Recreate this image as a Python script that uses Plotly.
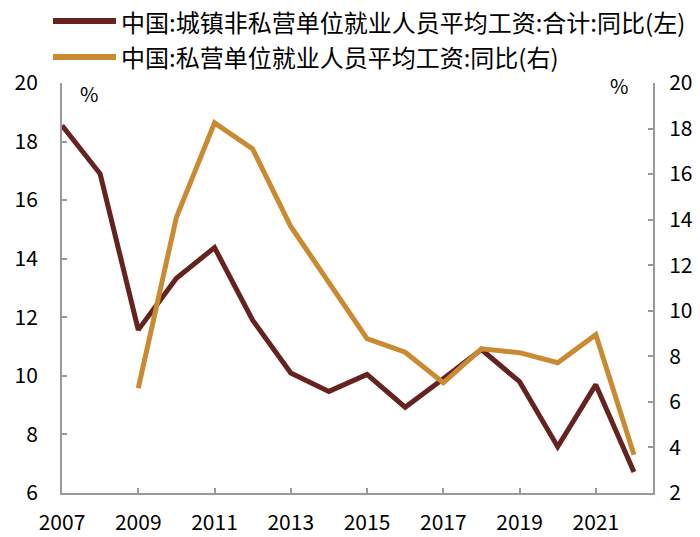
import plotly.graph_objects as go

years = list(range(2007, 2023))
left_name = "中国:城镇非私营单位就业人员平均工资:合计:同比(左)"
right_name = "中国:私营单位就业人员平均工资:同比(右)"
left_vals = [18.55, 16.9, 11.57, 13.33, 14.38, 11.9, 10.1, 9.47, 10.05, 8.93, 9.9, 10.9, 9.8, 7.58, 9.7, 6.72]
right_years = list(range(2009, 2023))
right_vals = [6.6, 14.1, 18.25, 17.1, 13.7, 11.2, 8.78, 8.18, 6.84, 8.33, 8.16, 7.72, 8.95, 3.68]
x_ticks = list(range(2007, 2022, 2))
left_ticks = list(range(6, 21, 2))
right_ticks = list(range(2, 21, 2))

c_dark = "#66221F"
c_gold = "#C98A31"
axis_col = "#9a9a9a"
font_fam = "Noto Sans CJK SC, Noto Sans, sans-serif"

fig = go.Figure()
fig.add_trace(go.Scatter(x=years, y=left_vals, mode="lines", name=left_name,
                         line=dict(color=c_dark, width=5), yaxis="y", showlegend=False))
fig.add_trace(go.Scatter(x=right_years, y=right_vals, mode="lines", name=right_name,
                         line=dict(color=c_gold, width=5), yaxis="y2", showlegend=False))

W, H = 700, 537
L, T = 62, 83
R = W - 653
B = H - 493
pw, ph = W - L - R, H - T - B

def px_x(p):
    return (p - L) / pw

def px_y(p):
    return (H - B - p) / ph

legend_items = [(left_name, c_dark, 21), (right_name, c_gold, 57)]
shapes = []
annotations = []
for name, col, yc in legend_items:
    shapes.append(dict(type="line", xref="paper", yref="paper",
                       x0=px_x(53), x1=px_x(116), y0=px_y(yc), y1=px_y(yc),
                       line=dict(color=col, width=6)))
    annotations.append(dict(text=name, xref="paper", yref="paper", x=px_x(119), y=px_y(yc),
                            xanchor="left", yanchor="middle", showarrow=False,
                            font=dict(size=24, color="#000", family=font_fam)))
annotations.append(dict(text="%", xref="paper", yref="paper", x=px_x(89), y=px_y(93),
                        xanchor="center", yanchor="middle", showarrow=False,
                        font=dict(size=20, color="#000", family=font_fam)))
annotations.append(dict(text="%", xref="paper", yref="paper", x=px_x(619), y=px_y(85),
                        xanchor="center", yanchor="middle", showarrow=False,
                        font=dict(size=20, color="#000", family=font_fam)))

axis_common = dict(showgrid=False, zeroline=False, showline=True, linecolor=axis_col, linewidth=2,
                   ticks="inside", ticklen=5, tickwidth=1.5, tickcolor=axis_col, automargin=False,
                   tickfont=dict(size=21, color="#000", family=font_fam))

fig.update_layout(
    width=W, height=H, margin=dict(l=L, r=R, t=T, b=B, autoexpand=False),
    paper_bgcolor="white", plot_bgcolor="white",
    showlegend=False,
    xaxis=dict(range=[2007, 2022.5], tickvals=x_ticks, ticklabelstandoff=10, **axis_common),
    yaxis=dict(range=[6, 20], tickvals=left_ticks, ticklabelstandoff=18, **axis_common),
    yaxis2=dict(range=[2, 20], tickvals=right_ticks, overlaying="y", side="right",
                ticklabelstandoff=10, **axis_common),
    shapes=shapes, annotations=annotations,
)

fig.write_html("out.html", config={"displayModeBar": False},
               post_script="document.body.style.margin='0';document.body.style.overflow='hidden';")
